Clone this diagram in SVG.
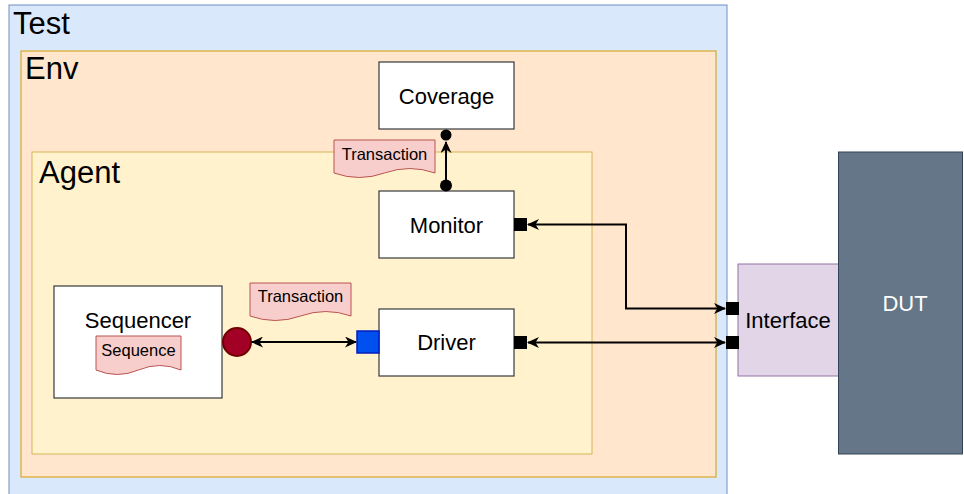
<svg xmlns="http://www.w3.org/2000/svg" width="964" height="494" viewBox="0 0 964 494">
<style>
text{font-family:"Liberation Sans",Arial,sans-serif;fill:#000}
.cont{font-size:31px}
.node{font-size:22px;text-anchor:middle}
.doc{fill:#f8cecc;stroke:#b85450;stroke-width:1}
.doct{font-size:16.5px;text-anchor:middle}
.box{fill:#fff;stroke:#36393d;stroke-width:1.2}
.port{fill:#000;stroke:#000;stroke-width:1}
.edge{fill:none;stroke:#000;stroke-width:2}
</style>
<defs>
<marker id="arr" viewBox="0 0 12 11" refX="11" refY="5.5" markerWidth="12" markerHeight="11" markerUnits="userSpaceOnUse" orient="auto-start-reverse">
<path d="M0,0 L12,5.5 L0,11 L3.5,5.5 Z" fill="#000"/>
</marker>
</defs>
<g id="test">
<rect x="9" y="5" width="718" height="500" fill="#dae8fc" stroke="#6c8ebf" stroke-width="1"/>
<text class="cont" x="13" y="34">Test</text>
</g>
<g id="env">
<rect x="21" y="51" width="695" height="426" fill="#ffe6cc" stroke="#d79b00" stroke-width="1"/>
<text class="cont" x="25" y="79">Env</text>
</g>
<g id="agent">
<rect x="32" y="152" width="560" height="302" fill="#fff2cc" stroke="#d6b656" stroke-width="1"/>
<text class="cont" x="39" y="183">Agent</text>
</g>
<g id="coverage">
<rect class="box" x="379" y="62" width="135" height="67"/>
<text class="node" x="446.5" y="104">Coverage</text>
</g>
<g id="monitor">
<rect class="box" x="379" y="191" width="135" height="67"/>
<text class="node" x="446.5" y="233">Monitor</text>
<rect class="port" x="514.5" y="218.5" width="12" height="12"/>
</g>
<g id="driver">
<rect class="box" x="379" y="309" width="135" height="67"/>
<text class="node" x="446.5" y="350">Driver</text>
<rect class="port" x="514.5" y="336.5" width="12" height="12"/>
<rect x="357" y="331" width="22" height="22" fill="#0050ef" stroke="#001dbc" stroke-width="1.5"/>
</g>
<g id="sequencer">
<rect class="box" x="54" y="286" width="168" height="112"/>
<text class="node" x="138" y="328">Sequencer</text>
<path class="doc" d="M96,336 H181 V370 Q159.75,361 138.5,370 Q117.25,379 96,370 Z"/>
<text class="doct" x="138.5" y="356">Sequence</text>
<circle cx="237" cy="342" r="14" fill="#a20025" stroke="#6f0000" stroke-width="2"/>
</g>
<g id="transaction1">
<path class="doc" d="M250,283 H351 V316 Q325.75,307 300.5,316 Q275.25,325 250,316 Z"/>
<text class="doct" x="300.5" y="302">Transaction</text>
</g>
<g id="transaction2">
<path class="doc" d="M334,140 H435 V173 Q409.75,164 384.5,173 Q359.25,182 334,173 Z"/>
<text class="doct" x="384.5" y="160">Transaction</text>
</g>
<g id="interface">
<rect x="738" y="264" width="101" height="112" fill="#e1d5e7" stroke="#9673a6" stroke-width="1"/>
<text class="node" x="788" y="328">Interface</text>
<rect class="port" x="726.5" y="302.5" width="12" height="12"/>
<rect class="port" x="726.5" y="336.5" width="12" height="12"/>
</g>
<g id="dut">
<rect x="838.5" y="152" width="124" height="302" fill="#647687" stroke="#314354" stroke-width="1"/>
<text class="node" x="905" y="311" style="fill:#fff">DUT</text>
</g>
<g id="connectors">
<line class="edge" x1="446" y1="185" x2="446" y2="142" marker-end="url(#arr)"/>
<circle cx="446" cy="185.5" r="6" fill="#000"/>
<circle cx="446" cy="135" r="5.5" fill="#000"/>
<line class="edge" x1="252" y1="342" x2="356" y2="342" marker-start="url(#arr)" marker-end="url(#arr)"/>
<polyline class="edge" points="528,224.5 626,224.5 626,308.5 725,308.5" marker-start="url(#arr)" marker-end="url(#arr)"/>
<line class="edge" x1="528" y1="342.5" x2="725" y2="342.5" marker-start="url(#arr)" marker-end="url(#arr)"/>
</g>
</svg>
